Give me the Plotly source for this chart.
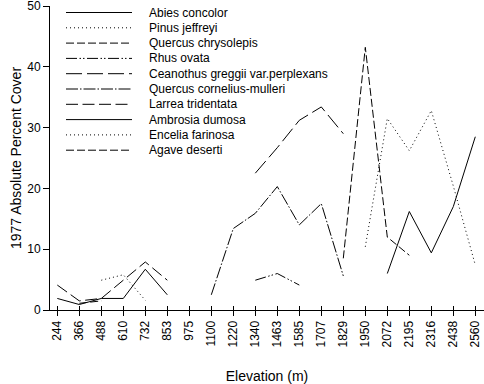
import plotly.graph_objects as go

elevations = ["244", "366", "488", "610", "732", "853", "975", "1100", "1220", "1340",
              "1463", "1585", "1707", "1829", "1950", "2072", "2195", "2316", "2438", "2560"]

N = None
abies_concolor = [N]*15 + [6.0, 16.2, 9.4, 17.0, 28.5]
pinus_jeffreyi = [N]*14 + [10.4, 31.5, 26.2, 32.8, 20.4, 7.4]
quercus_chrysolepis = [N]*13 + [8.5, 43.2, 12.0, 9.0, N, N, N]
rhus_ovata = [N]*9 + [4.9, 6.0, 4.1] + [N]*8
ceanothus_greggii = [N]*9 + [22.5, 26.7, 31.2, 33.4, 29.0] + [N]*6
quercus_cornelius = [N]*7 + [2.5, 13.4, 15.9, 20.3, 14.0, 17.5, 5.6] + [N]*6
larrea_tridentata = [4.1, 1.5, 1.9, 4.9, 7.9, 4.9] + [N]*14
ambrosia_dumosa = [1.9, 0.9, 1.9, 1.9, 6.7, 2.5] + [N]*14
encelia_farinosa = [N, N, 4.9, 5.8, 1.6] + [N]*15
agave_deserti = [N, 1.1, 1.5] + [N]*17

species = ["Abies concolor", "Pinus jeffreyi", "Quercus chrysolepis", "Rhus ovata",
           "Ceanothus greggii var.perplexans", "Quercus cornelius-mulleri",
           "Larrea tridentata", "Ambrosia dumosa", "Encelia farinosa", "Agave deserti"]
values = [abies_concolor, pinus_jeffreyi, quercus_chrysolepis, rhus_ovata,
          ceanothus_greggii, quercus_cornelius, larrea_tridentata, ambrosia_dumosa,
          encelia_farinosa, agave_deserti]
dashes = ["solid", "1px,3px", "8px,3px", "11px,2.5px,1.5px,2px,1.5px,2.5px",
          "16px,5px", "12px,2px,1.5px,2px", "12px,4.5px", "solid", "1px,3px", "8px,3px"]

FONT = "Liberation Sans, Arial, sans-serif"
fig = go.Figure()
for i, (name, vals, dash) in enumerate(zip(species, values, dashes)):
    fig.add_trace(go.Scatter(
        x=elevations, y=vals, mode="lines", name=name,
        line=dict(color="black", width=1, dash=dash),
        connectgaps=False, showlegend=False, hoverinfo="skip",
        xaxis="x2" if i == 7 else "x",
    ))

W, H = 484, 384
L, R, T, B = 50, 0, 6, 74
pw, ph = W - L - R, H - T - B
xr = [-(57.3 - L) / 22.0, -(57.3 - L) / 22.0 + pw / 22.0]

# manual legend (compact spacing)
for i, (name, dash) in enumerate(zip(species, dashes)):
    ypix = 12.5 + 15.3 * i
    yp = (H - B - ypix) / ph
    fig.add_shape(type="line", xref="paper", yref="paper",
                  x0=(66 - L) / pw, x1=(132 - L) / pw, y0=yp, y1=yp,
                  line=dict(color="black", width=1, dash=dash))
    fig.add_annotation(xref="paper", yref="paper", x=(147 - L) / pw, y=yp,
                       xanchor="left", yanchor="middle", text=name, showarrow=False,
                       font=dict(family=FONT, size=12, color="black"))

fig.update_layout(
    width=W, height=H, margin=dict(l=L, r=R, t=T, b=B),
    paper_bgcolor="white", plot_bgcolor="white",
    font=dict(family=FONT, size=12, color="black"),
    showlegend=False, hovermode=False,
    xaxis=dict(type="category", categoryorder="array", categoryarray=elevations,
               range=xr, tickangle=-90, ticks="outside", ticklen=5, tickcolor="black",
               showline=True, linecolor="black", linewidth=1, showgrid=False, zeroline=False,
               automargin=False, ticklabeloverflow="allow",
               title=dict(text="Elevation (m)", font=dict(size=14), standoff=24),
               tickfont=dict(size=12)),
    xaxis2=dict(type="category", categoryorder="array", categoryarray=elevations,
                matches="x", overlaying="x", anchor="y", ticks="inside", ticklen=4,
                tickcolor="black", showticklabels=False, showline=False, showgrid=False,
                zeroline=False, automargin=False),
    yaxis=dict(range=[0, 50], tickvals=[0, 10, 20, 30, 40, 50], ticks="outside",
               ticklen=6, tickcolor="black", showline=True, linecolor="black", linewidth=1,
               showgrid=False, zeroline=False, automargin=False, ticklabeloverflow="allow",
               title=dict(text="1977 Absolute Percent Cover", font=dict(size=14), standoff=2),
               tickfont=dict(size=12)),
)

fig.write_html("out.html", config={"displayModeBar": False},
               post_script="document.body.style.margin='0';document.body.style.overflow='hidden';")
